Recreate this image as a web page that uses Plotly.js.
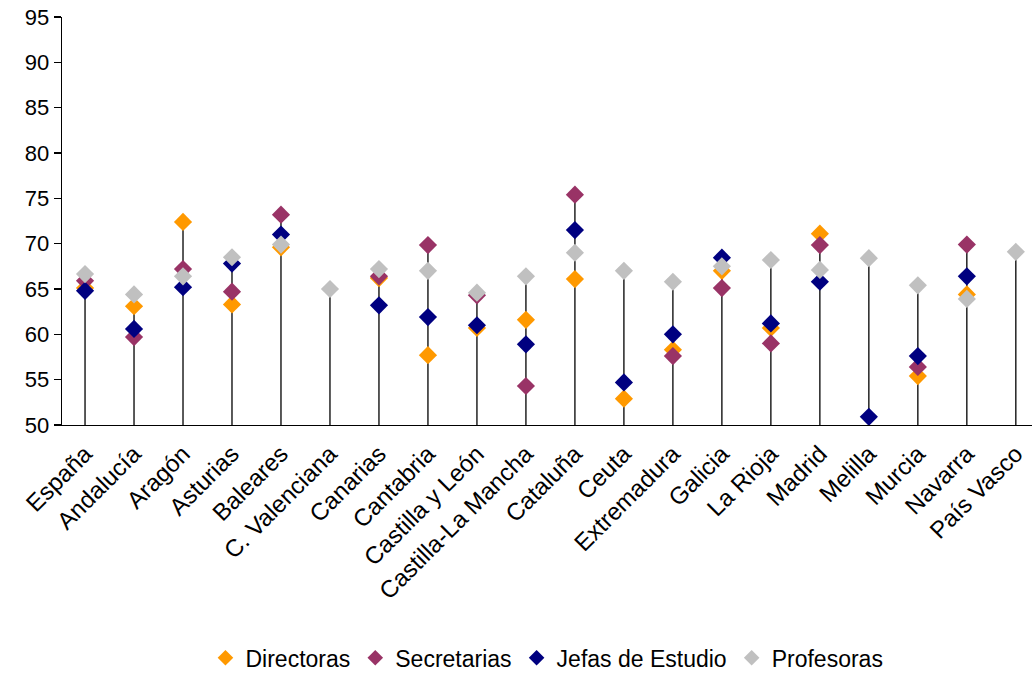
<!DOCTYPE html>
<html>
<head>
<meta charset="utf-8">
<script src="https://cdn.plot.ly/plotly-3.0.1.min.js"></script>
<style>html,body{margin:0;padding:0;background:#fff}#chart{width:1032px;height:674px}</style>
</head>
<body>
<div id="chart"></div>
<script>
const categories = ["España","Andalucía","Aragón","Asturias","Baleares","C. Valenciana","Canarias","Cantabria","Castilla y León","Castilla-La Mancha","Cataluña","Ceuta","Extremadura","Galicia","La Rioja","Madrid","Melilla","Murcia","Navarra","País Vasco"];
const directoras   = [65.1, 63.1, 72.4, 63.3, 69.6, null, 66.2, 57.7, 60.7, 61.6, 66.1, 52.9, 58.3, 67.0, 60.7, 71.1, null, 55.4, 64.4, null];
const secretarias  = [65.9, 59.7, 67.2, 64.7, 73.2, null, 66.4, 69.85, 64.3, 54.3, 75.4, null, 57.6, 65.1, 59.0, 69.85, null, 56.4, 69.9, null];
const jefas        = [64.8, 60.6, 65.2, 67.8, 71.0, null, 63.2, 61.9, 61.0, 58.9, 71.5, 54.7, 60.0, 68.45, 61.2, 65.8, 50.9, 57.6, 66.4, null];
const profesoras   = [66.65, 64.4, 66.4, 68.5, 69.9, 65.0, 67.2, 67.0, 64.6, 66.4, 69.0, 67.0, 65.8, 67.5, 68.2, 67.1, 68.4, 65.4, 63.9, 69.1];
const yTicks = [50,55,60,65,70,75,80,85,90,95];
const baseValue = 50;

const seriesDefs = [
  {name:"Directoras", y:directoras, color:"#FF9900"},
  {name:"Secretarias", y:secretarias, color:"#993366"},
  {name:"Jefas de Estudio", y:jefas, color:"#000080"},
  {name:"Profesoras", y:profesoras, color:"#C0C0C0"}
];

// drop lines from axis to highest point
const lx = [], ly = [];
categories.forEach((c,i)=>{
  const vals = seriesDefs.map(s=>s.y[i]).filter(v=>v!==null);
  const mx = Math.max(...vals);
  lx.push(c,c,null); ly.push(baseValue,mx,null);
});

const traces = [{
  x: lx, y: ly, mode:"lines", type:"scatter",
  line:{color:"#000000", width:1.3},
  showlegend:false, hoverinfo:"skip"
}];
seriesDefs.forEach(s=>{
  traces.push({
    x: categories, y: s.y, name: s.name, type:"scatter", mode:"markers",
    marker:{symbol:"diamond", size:14, color:s.color, line:{width:0}}
  });
});

const layout = {
  width:1032, height:674,
  margin:{l:62, r:0, t:17, b:249},
  paper_bgcolor:"#fff", plot_bgcolor:"#fff",
  font:{family:"Liberation Sans, Arial, sans-serif", size:22, color:"#000"},
  xaxis:{
    type:"category", range:[-0.47, 19.33],
    showline:true, linecolor:"#000", linewidth:1.3,
    ticks:"outside", ticklen:4, tickcolor:"rgba(0,0,0,0)", tickangle:-45, tickfont:{size:24},
    showgrid:false, zeroline:false, fixedrange:true, automargin:false
  },
  yaxis:{
    range:[50,95], tickvals:yTicks, ticktext:yTicks.map(String),
    showline:true, linecolor:"#000", linewidth:1.3,
    ticks:"outside", ticklen:7, tickcolor:"#000", tickwidth:1.3,
    showgrid:false, zeroline:false, tickfont:{size:22}, fixedrange:true, automargin:false
  },
  legend:{
    orientation:"h", x:0.53, xref:"container", xanchor:"center",
    y:0.024, yref:"container", yanchor:"middle",
    font:{size:23}, itemsizing:"constant", tracegroupgap:0, itemwidth:20
  },
  showlegend:true
};

Plotly.newPlot("chart", traces, layout, {displayModeBar:false, staticPlot:true});
</script>
</body>
</html>
